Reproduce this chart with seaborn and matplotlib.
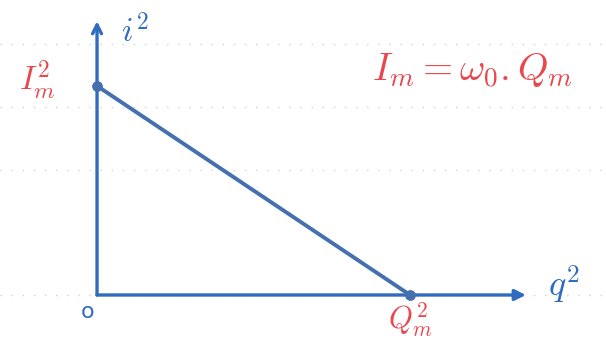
import matplotlib
matplotlib.use("Agg")
import matplotlib.pyplot as plt
import seaborn as sns
import pandas as pd

# Energy diagram: i^2 falls linearly as q^2 grows (LC circuit)
q_squared = [0.0, 1.0]
i_squared = [1.0, 0.0]
x_tick_label = r"$Q_m^2$"
y_tick_label = r"$I_m^2$"
relation = r"$I_m = \omega_0 . Q_m$"
x_name = r"$q^2$"
y_name = r"$i^2$"

sns.set_theme(style="white")
plt.rcParams["font.family"] = ["DejaVu Sans"]
plt.rcParams["mathtext.fontset"] = "cm"

axis_blue = "#2f6cc0"
line_blue = "#4470ad"
red = "#e8484d"

fig = plt.figure(figsize=(6.06, 3.46), dpi=100)
ax = fig.add_axes([0, 0, 1, 1])
ax.set_xlim(-0.31, 1.626)
ax.set_ylim(-0.244, 1.411)
ax.axis("off")

# faint dotted ruling of the paper
for yy in [1.20, 0.90, 0.60, 0.0]:
    ax.axhline(yy, color="#d2d2d2", lw=1.0, ls=(0, (1, 7)), zorder=0)

df = pd.DataFrame({"q2": q_squared, "i2": i_squared})
sns.lineplot(data=df, x="q2", y="i2", ax=ax, color=line_blue, lw=2.8, zorder=3)
ax.scatter([0, 1], [1, 0], s=45, color=line_blue, zorder=4)

# axes with arrow heads
ax.annotate("", xy=(1.37, 0), xytext=(0, 0),
            arrowprops=dict(arrowstyle="-|>", color=axis_blue, lw=2.4,
                            mutation_scale=16, shrinkA=0, shrinkB=0), zorder=2)
ax.annotate("", xy=(0, 1.31), xytext=(0, 0),
            arrowprops=dict(arrowstyle="->", color=axis_blue, lw=2.4,
                            mutation_scale=16, shrinkA=0, shrinkB=0), zorder=2)

ax.text(-0.03, -0.08, "o", color=axis_blue, fontsize=16, ha="center", va="center")
ax.text(1.49, 0.05, x_name, color=axis_blue, fontsize=26, ha="center", va="center")
ax.text(0.12, 1.26, y_name, color=axis_blue, fontsize=24, ha="center", va="center")
ax.text(-0.19, 1.03, y_tick_label, color=red, fontsize=24, ha="center", va="center")
ax.text(1.0, -0.12, x_tick_label, color=red, fontsize=22, ha="center", va="center")
ax.text(1.20, 1.07, relation, color=red, fontsize=28, ha="center", va="center")

fig.savefig("out.png", dpi=100, facecolor="white")
